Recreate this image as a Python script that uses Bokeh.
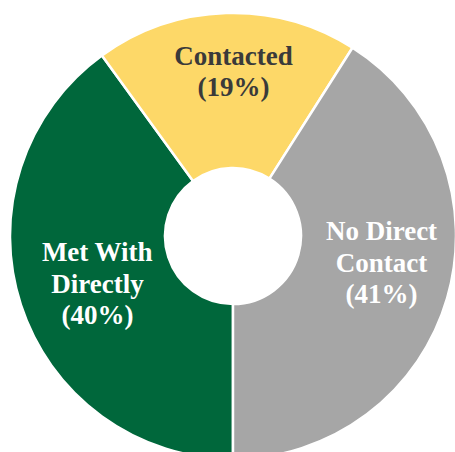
import numpy as np
from bokeh.plotting import figure
from bokeh.models import Range1d, ColumnDataSource
from bokeh.core.properties import value
from bokeh.embed import file_html
from bokeh.resources import INLINE

# data (clockwise from 6 o'clock)
categories = ["Met With Directly", "Contacted", "No Direct Contact"]
shares = [40, 19, 41]
label_texts = ["Met With\nDirectly\n(40%)", "Contacted\n(19%)", "No Direct\nContact\n(41%)"]
colors = ["#00673B", "#FDD868", "#A6A6A6"]
text_colors = ["#FFFFFF", "#3A3A3A", "#FFFFFF"]

# layout (pixel-like units, pie centre at origin)
W, H = 455, 452
cx, cy = 232.5, 235.5   # centre in page pixels
outer_r, inner_r = 223, 68
label_x = [97, 233, 381]   # page px
label_y = [283, 71, 262]

frac = np.array(shares, dtype=float) / sum(shares)
cum = np.concatenate([[0], np.cumsum(frac)])
start = 1.5 * np.pi - 2 * np.pi * cum[:-1]
end = 1.5 * np.pi - 2 * np.pi * cum[1:]

src = ColumnDataSource(dict(cat=categories, start=start, end=end, color=colors))

p = figure(width=W, height=H, output_backend="svg", toolbar_location=None,
           x_range=Range1d(-cx, W - cx), y_range=Range1d(cy - H, cy),
           min_border=0)
p.axis.visible = False
p.grid.visible = False
p.outline_line_color = None
p.background_fill_color = "white"
p.border_fill_color = "white"

p.annular_wedge(x=0, y=0, inner_radius=inner_r, outer_radius=outer_r,
                start_angle="start", end_angle="end", direction="clock",
                fill_color="color", line_color="white", line_width=2.5, source=src)

tsrc = ColumnDataSource(dict(x=[lx - cx for lx in label_x], y=[cy - ly for ly in label_y],
                             text=label_texts, tc=text_colors))
p.text(x="x", y="y", text="text", text_color="tc", source=tsrc,
       text_font=value("Liberation Serif"), text_font_style="bold",
       text_font_size="27px", text_align="center", text_baseline="middle",
       text_line_height=1.05)

open("out.html", "w").write(file_html(p, INLINE))
